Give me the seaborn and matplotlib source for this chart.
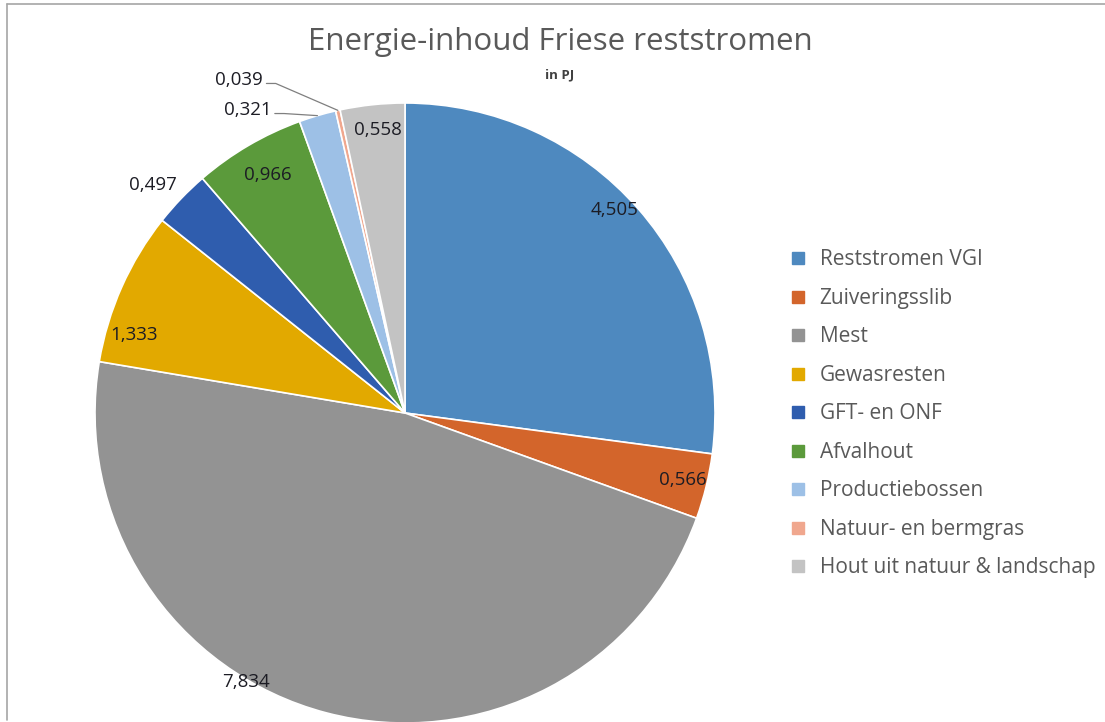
import numpy as np
import pandas as pd
import matplotlib.pyplot as plt
import seaborn as sns
from matplotlib.lines import Line2D

# data
categories = ['Reststromen VGI', 'Zuiveringsslib', 'Mest', 'Gewasresten', 'GFT- en ONF',
              'Afvalhout', 'Productiebossen', 'Natuur- en bermgras', 'Hout uit natuur & landschap']
values = [4.505, 0.566, 7.834, 1.333, 0.497, 0.966, 0.321, 0.039, 0.558]
value_labels = ['4,505', '0,566', '7,834', '1,333', '0,497', '0,966', '0,321', '0,039', '0,558']

colors = ['#4E89BF', '#D3652B', '#939393', '#E2A900', '#2F5DAE',
          '#5B9A3B', '#9DC0E6', '#F0A78E', '#C3C3C3']

# label placement (unit-circle coords); leader = label sits outside with a line
label_xy = [(0.675, 0.655), (0.895, -0.216), (-0.513, -0.868), (-0.874, 0.252),
            (-0.813, 0.735), (-0.442, 0.768), (-0.508, 0.978), (-0.535, 1.075), (-0.087, 0.913)]
leader = [False, False, False, False, False, False, True, True, False]

sns.set_theme(style='white')
plt.rcParams['font.family'] = ['Open Sans', 'DejaVu Sans']

fig = plt.figure(figsize=(11.05, 7.22), dpi=100)
ax = fig.add_axes([95 / 1105, -1 / 722, 620 / 1105, 620 / 722])

wedges, _ = ax.pie(values, colors=colors, startangle=90, counterclock=False,
                   radius=1, wedgeprops=dict(edgecolor='white', linewidth=1.2))
ax.set_xlim(-1, 1)
ax.set_ylim(-1, 1)
ax.set_aspect('equal')
ax.axis('off')

for w, lab, (tx, ty), ld in zip(wedges, value_labels, label_xy, leader):
    ax.text(tx, ty, lab, ha='center', va='center', fontsize=13.5, color='#1c1c24')
    if ld:
        mid = np.deg2rad((w.theta1 + w.theta2) / 2)
        ex, ey = np.cos(mid), np.sin(mid)
        x0 = tx + 0.088
        ax.plot([x0, x0 + 0.03, ex], [ty - 0.012, ty - 0.012, ey], color='#7f7f7f',
                lw=0.9, clip_on=False)

# title
fig.text(560 / 1105, 1 - 42 / 722, 'Energie-inhoud Friese reststromen', ha='center', va='center',
         fontsize=22.5, color='#595959')
fig.text(560 / 1105, 1 - 75 / 722, 'in PJ', ha='center', va='center',
         fontsize=9.5, color='#404040', fontweight='bold')

# legend
handles = [Line2D([0], [0], marker='s', linestyle='', markersize=8, markerfacecolor=c,
                  markeredgecolor=c) for c in colors]
fig.legend(handles, categories, loc='upper left', bbox_to_anchor=(782 / 1105, 1 - 241 / 722),
           frameon=False, fontsize=15, labelcolor='#595959', handlelength=0.7,
           handletextpad=0.7, labelspacing=0.84, borderaxespad=0)

# frame lines at top and left
fig.add_artist(Line2D([7 / 1105, 1], [1 - 4 / 722, 1 - 4 / 722], color='#a6a6a6', lw=1.2))
fig.add_artist(Line2D([7 / 1105, 7 / 1105], [1 - 4 / 722, 1 - 720 / 722], color='#a6a6a6', lw=1.2))

fig.savefig('out.png', dpi=100)
